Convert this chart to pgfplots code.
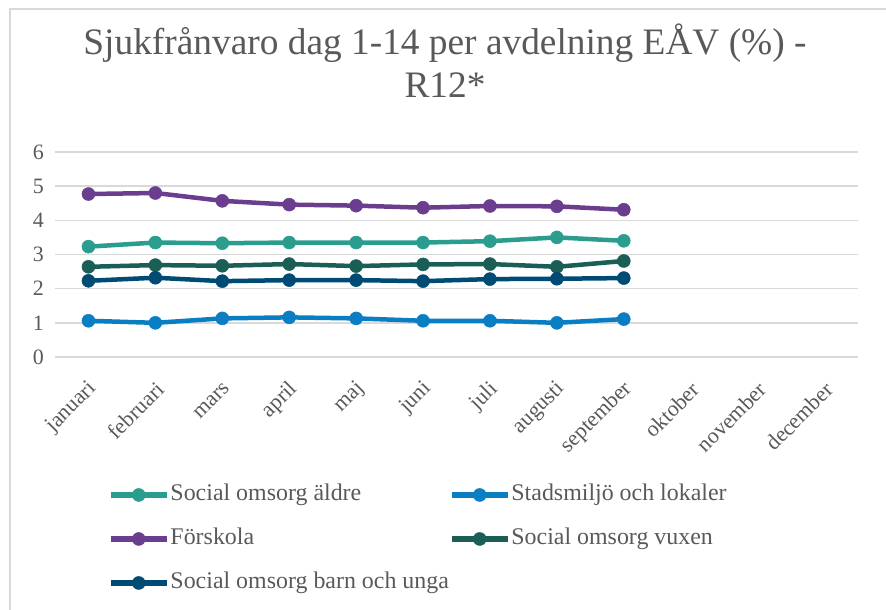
\documentclass[border=0pt]{standalone}
\usepackage{fontspec}
\setmainfont{Liberation Serif}
\usepackage{pgfplots}
\pgfplotsset{compat=1.18}
\definecolor{tgray}{HTML}{595959}
\definecolor{gridcol}{HTML}{D9D9D9}
\definecolor{caldre}{HTML}{2A9D8F}
\definecolor{cstad}{HTML}{0A7EC2}
\definecolor{cforsk}{HTML}{6A3D8F}
\definecolor{cvuxen}{HTML}{1B5E56}
\definecolor{cbarn}{HTML}{004B73}
\begin{document}
\begin{tikzpicture}
\path[use as bounding box] (0bp,0bp) rectangle (886bp,610bp);
\draw[gridcol, line width=1.5bp] (10bp,0bp) -- (10bp,601bp) -- (886bp,601bp);
\node[anchor=base, font=\fontsize{37.5}{43}\selectfont, text=tgray, inner sep=0pt] at (445bp,555bp) {Sjukfrånvaro dag 1-14 per avdelning EÅV (\%) -};
\node[anchor=base, font=\fontsize{37.5}{43}\selectfont, text=tgray, inner sep=0pt] at (445bp,512bp) {R12*};
\begin{axis}[
  at={(55bp,253bp)}, anchor=south west,
  width=803bp, height=205bp, scale only axis,
  xmin=-0.5, xmax=11.5, ymin=0, ymax=6,
  ytick={0,1,2,3,4,5,6},
  xtick={0,1,2,3,4,5,6,7,8,9,10,11},
  xticklabels={januari,februari,mars,april,maj,juni,juli,augusti,september,oktober,november,december},
  axis line style={draw=none},
  ymajorgrids,
  grid style={gridcol, line width=1.5bp},
  major tick length=0pt,
  tick label style={font=\fontsize{22}{26}\selectfont, text=tgray},
  /pgf/number format/assume math mode=true,
  yticklabel style={inner sep=0pt, xshift=-11bp},
  xticklabel style={inner sep=0pt, xshift=5bp, yshift=-29bp, rotate=45, anchor=east},
  legend columns=2,
  legend cell align=left,
  legend style={at={(0.066,-0.617)}, anchor=north west, draw=none, fill=none,
    inner sep=0pt, outer sep=0pt, row sep=21bp,
    font=\fontsize{24}{28}\selectfont, text=tgray,
    nodes={inner sep=0pt, text height=17bp, text depth=6bp},
    /tikz/every odd column/.append style={column sep=1bp},
    /tikz/every even column/.append style={column sep=0bp}},
  legend image code/.code={\draw[line width=5.5bp, mark repeat=2,mark phase=2] plot coordinates {(0bp,0bp) (28bp,0bp) (56bp,0bp)};},
  every axis plot/.append style={line width=4.5bp, mark=*, mark size=6.5bp, mark options={solid, line width=0.5bp}},
]
\addplot[color=caldre] coordinates {(0,3.23) (1,3.35) (2,3.33) (3,3.35) (4,3.35) (5,3.35) (6,3.39) (7,3.50) (8,3.40)};
\addlegendentry{Social omsorg äldre}
\addplot[color=cstad] coordinates {(0,1.06) (1,1.00) (2,1.13) (3,1.16) (4,1.13) (5,1.06) (6,1.06) (7,1.00) (8,1.11)};
\addlegendentry{Stadsmiljö och lokaler}
\addplot[color=cforsk] coordinates {(0,4.77) (1,4.80) (2,4.57) (3,4.46) (4,4.43) (5,4.37) (6,4.42) (7,4.41) (8,4.31)};
\addlegendentry{Förskola}
\addplot[color=cvuxen] coordinates {(0,2.64) (1,2.69) (2,2.67) (3,2.72) (4,2.66) (5,2.71) (6,2.72) (7,2.64) (8,2.81)};
\addlegendentry{Social omsorg vuxen}
\addplot[color=cbarn] coordinates {(0,2.23) (1,2.32) (2,2.22) (3,2.25) (4,2.25) (5,2.22) (6,2.28) (7,2.29) (8,2.31)};
\addlegendentry{Social omsorg barn och unga}
\end{axis}
\end{tikzpicture}
\end{document}
